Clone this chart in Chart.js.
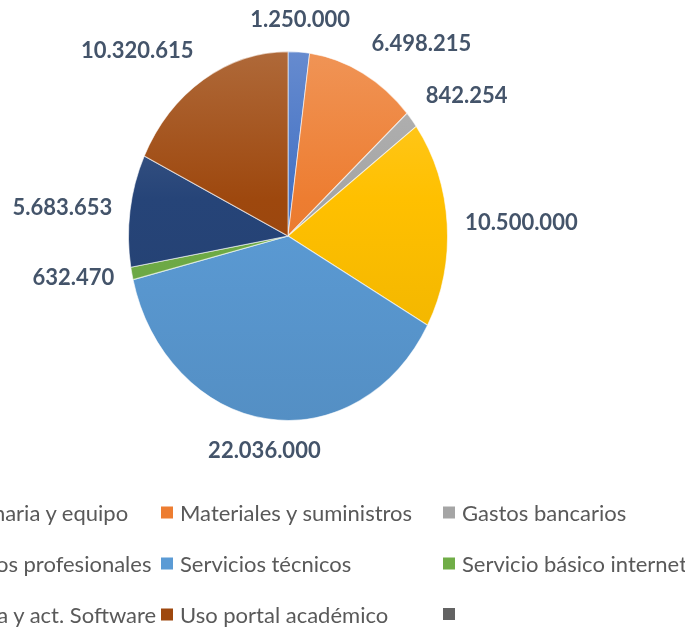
<!DOCTYPE html>
<html>
<head>
<meta charset="utf-8">
<script src="https://cdn.jsdelivr.net/npm/chart.js@4.4.1/dist/chart.umd.min.js"></script>
<style>
  body { margin: 0; background: #fff; overflow: hidden; }
  #wrap { position: relative; width: 685px; height: 628px; overflow: hidden; }
  #chart { position: absolute; left: 0; top: 0; }
  .item { position: absolute; display: flex; align-items: center; white-space: nowrap;
          font-family: Lato, "Open Sans", sans-serif; font-size: 22px; color: #595959;
          transform: translateY(-50%); }
  .item i { display: inline-block; width: 12px; height: 12px; margin-right: 7px; }
</style>
</head>
<body>
<div id="wrap">
  <canvas id="chart" width="685" height="628"></canvas>
  <div id="legend"></div>
</div>
<script>
const categories = [
  'Maquinaria y equipo',
  'Materiales y suministros',
  'Gastos bancarios',
  'Servicios profesionales',
  'Servicios técnicos',
  'Servicio básico internet',
  'Compra y act. Software',
  'Uso portal académico',
  ''
];
const amounts = [1250000, 6498215, 842254, 10500000, 22036000, 632470, 5683653, 10320615, 0];
const colors = ['#4472C4', '#ED7D31', '#A5A5A5', '#FFC000', '#5B9BD5', '#70AD47', '#264478', '#9E480E', '#636363'];

const yStretch = 185 / 160;

function mix(hex, target, t) {
  const n = parseInt(hex.slice(1), 16);
  const r = n >> 16, g = (n >> 8) & 255, b = n & 255;
  const m = c => Math.round(c + (target - c) * t);
  return `rgb(${m(r)},${m(g)},${m(b)})`;
}

function fmt(v) {
  return String(v).replace(/\B(?=(\d{3})+(?!\d))/g, '.');
}

// draw the pie squeezed into an ellipse like the original
const ellipse = {
  id: 'ellipse',
  beforeDatasetsDraw(chart) {
    const a = chart.chartArea;
    const cx = (a.left + a.right) / 2, cy = (a.top + a.bottom) / 2;
    const ctx = chart.ctx;
    ctx.save();
    ctx.translate(cx, cy);
    ctx.scale(1, yStretch);
    ctx.translate(-cx, -cy);
  },
  afterDatasetsDraw(chart) {
    chart.ctx.restore();
  }
};

// value labels outside each slice
const valueLabels = {
  id: 'valueLabels',
  afterDraw(chart) {
    const ctx = chart.ctx;
    const meta = chart.getDatasetMeta(0);
    ctx.save();
    ctx.font = 'bold 22px Lato, "Open Sans", sans-serif';
    ctx.fillStyle = '#44546A';
    meta.data.forEach((arc, i) => {
      const v = amounts[i];
      if (!v) return;
      const mid = (arc.startAngle + arc.endAngle) / 2;
      const dx = Math.cos(mid), dy = Math.sin(mid);
      const r = arc.outerRadius + 18;
      const x = arc.x + r * dx;
      const y = arc.y + r * dy * yStretch;
      ctx.textAlign = dx > 0.3 ? 'left' : dx < -0.3 ? 'right' : 'center';
      ctx.textBaseline = dy < -0.3 ? 'bottom' : dy > 0.3 ? 'top' : 'middle';
      ctx.fillText(fmt(v), x, y);
    });
    ctx.restore();
  }
};

const chart = new Chart(document.getElementById('chart'), {
  type: 'pie',
  data: {
    labels: categories,
    datasets: [{
      data: amounts,
      backgroundColor: ctx => {
        const c = colors[ctx.dataIndex];
        const a = ctx.chart.chartArea;
        if (!a) return c;
        const g = ctx.chart.ctx.createLinearGradient(0, a.top, 0, a.bottom);
        g.addColorStop(0, mix(c, 255, 0.18));
        g.addColorStop(0.4, c);
        g.addColorStop(1, mix(c, 0, 0.08));
        return g;
      },
      borderColor: 'rgba(255,255,255,0.6)',
      borderWidth: 1
    }]
  },
  options: {
    responsive: false,
    animation: false,
    layout: { padding: { left: 128, right: 237, top: 76, bottom: 232 } },
    plugins: { legend: { display: false }, tooltip: { enabled: false } }
  },
  plugins: [ellipse, valueLabels]
});

// legend in three columns, left column cut off by the frame
const colLeft = [-87, 161, 443];
const rowMid = [512, 563, 614];
const legend = document.getElementById('legend');
categories.forEach((name, i) => {
  const d = document.createElement('div');
  d.className = 'item';
  d.style.left = colLeft[i % 3] + 'px';
  d.style.top = rowMid[Math.floor(i / 3)] + 'px';
  d.innerHTML = `<i style="background:${colors[i]}"></i><span>${name}</span>`;
  legend.appendChild(d);
});
</script>
</body>
</html>
